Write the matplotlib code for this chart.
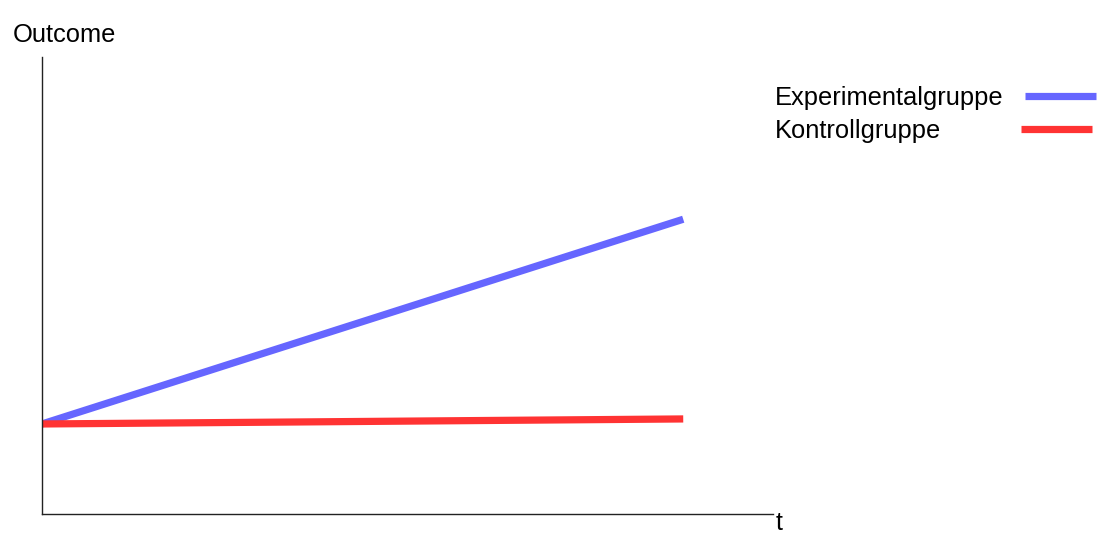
import matplotlib
matplotlib.use("Agg")
import matplotlib.pyplot as plt

# Data
t = [0.0, 1.0]
experimental = [0.197, 0.645]
control = [0.197, 0.208]
series_labels = ["Experimentalgruppe", "Kontrollgruppe"]
x_label = "t"
y_label = "Outcome"

plt.rcParams['font.family'] = ['Liberation Sans', 'DejaVu Sans']

W, H = 1106, 547
fig = plt.figure(figsize=(W / 100, H / 100), dpi=100)
ax = fig.add_axes([42/W, 1 - 514/H, 731/W, 457/H])

ax.plot(t, experimental, color="#6666FF", lw=5.2, solid_capstyle="butt", label=series_labels[0])
ax.plot(t, control, color="#FF3333", lw=5.2, solid_capstyle="butt", label=series_labels[1])

ax.set_xlim(0, 1.14)
ax.set_ylim(0, 1)
for s in ["top", "right"]:
    ax.spines[s].set_visible(False)
for s in ["left", "bottom"]:
    ax.spines[s].set_color("#222222")
    ax.spines[s].set_linewidth(1.0)
ax.set_xticks([])
ax.set_yticks([])

ax.text(1.004, -0.02, x_label, transform=ax.transAxes, fontsize=18, va="center", ha="left")
fig.text(13/W, 1 - 35/H, y_label, fontsize=18.4, va="center", ha="left")

fs = 18.4
leg = fig.legend(loc="upper left", bbox_to_anchor=(775/W, 1 - 86/H),
                 frameon=False, markerfirst=False, fontsize=fs,
                 handlelength=2.75, handletextpad=0.85, labelspacing=0.36,
                 borderaxespad=0, borderpad=0)

# left-align labels, keep handles close to each label's end
fig.canvas.draw()
renderer = fig.canvas.get_renderer()
texts = leg.get_texts()
widths = [tx.get_window_extent(renderer).width for tx in texts]
col = leg._legend_handle_box.get_children()[0]
col.align = "left"
rows = col.get_children()
base_sep = 0.85 * fs
rows[1].sep = base_sep + (widths[0] - widths[1] - 4) * 72 / 100

fig.savefig("out.png", dpi=100, facecolor="white")
